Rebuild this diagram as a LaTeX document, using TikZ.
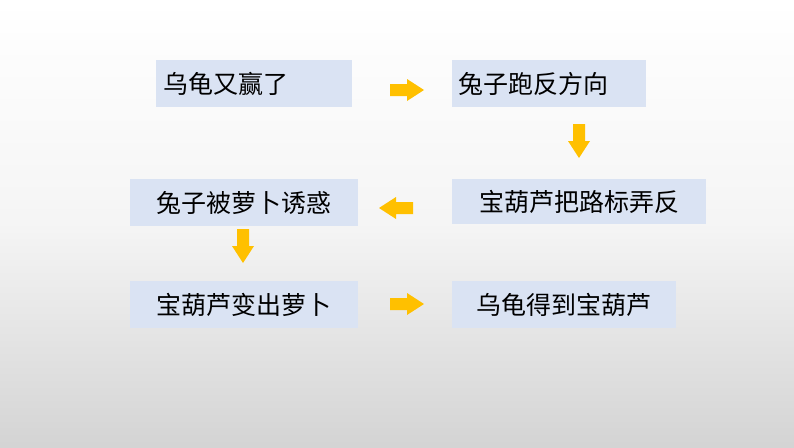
\documentclass[tikz,border=0pt]{standalone}
\usepackage{fontspec}
\newfontfamily\cjk{Noto Sans CJK SC}
\definecolor{boxc}{HTML}{DAE3F3}
\definecolor{arr}{HTML}{FFC000}
\tikzset{
 box/.style={fill=boxc,anchor=north west,minimum height=47pt,inner sep=0pt,font=\cjk\fontsize{25}{25}\selectfont},
 barrow/.pic={\fill[arr] (-17,-6) -- (0,-6) -- (0,-11) -- (17,0) -- (0,11) -- (0,6) -- (-17,6) -- cycle;}
}
\begin{document}
\begin{tikzpicture}[x=1pt,y=-1pt]
\shade[top color=white,bottom color=black!17,middle color=white!96!black] (0,0) rectangle (794,447);
\useasboundingbox (0,0) rectangle (794,447);
\node[box,minimum width=196pt] (a) at (156,60) {乌龟又赢了\hspace*{56pt}};
\node[box,minimum width=194pt] (b) at (452,60) {兔子跑反方向\hspace*{32pt}};
\node[box,minimum width=254pt,minimum height=45pt] (c) at (452,179) {宝葫芦把路标弄反};
\node[box,minimum width=228pt] (d) at (130,179) {兔子被萝卜诱惑};
\node[box,minimum width=228pt] (e) at (130,281) {宝葫芦变出萝卜};
\node[box,minimum width=224pt] (f) at (452,281) {乌龟得到宝葫芦};
\pic at (407,90) {barrow};
\pic[rotate=-90] at (579,141) {barrow};
\pic[rotate=180] at (396,208) {barrow};
\pic[rotate=-90] at (243,246) {barrow};
\pic at (407,304) {barrow};
\end{tikzpicture}
\end{document}
